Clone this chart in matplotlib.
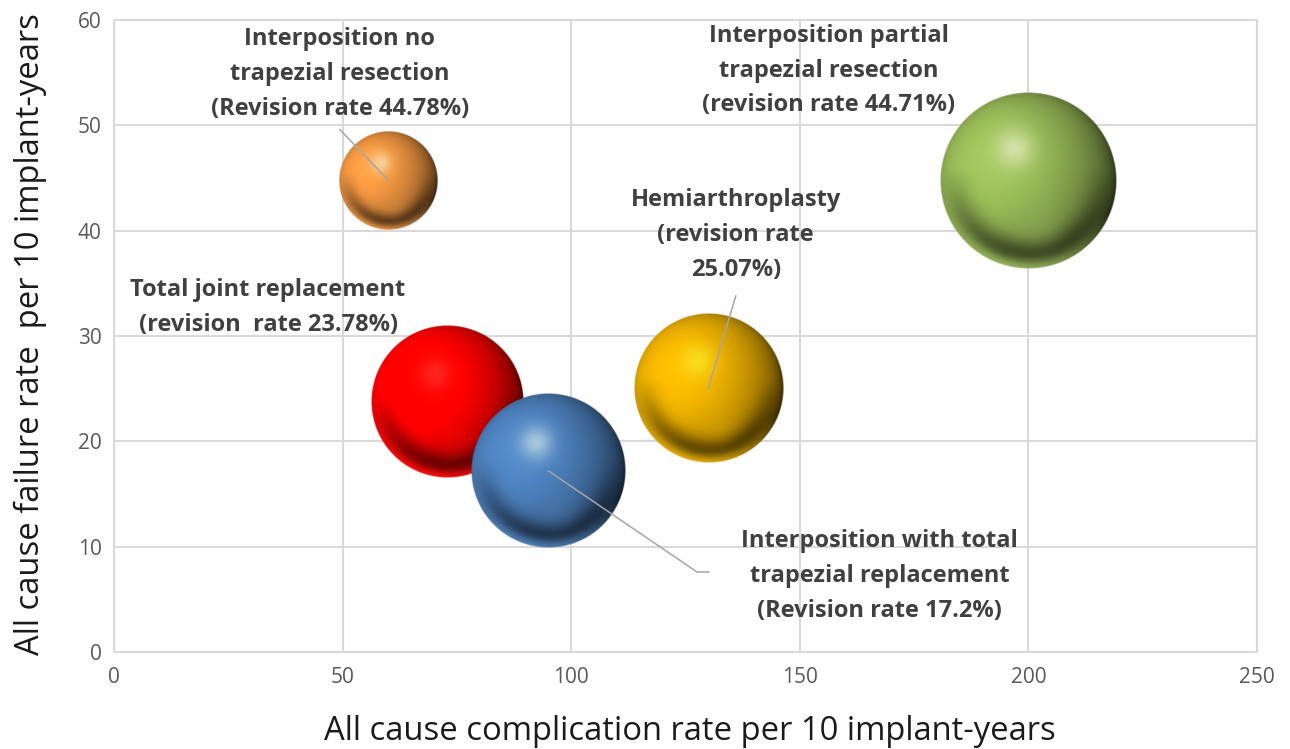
import numpy as np
import matplotlib
matplotlib.use('Agg')
import matplotlib.pyplot as plt

plt.rcParams['font.family'] = ['Open Sans', 'DejaVu Sans']

# values
complication_rate = [73, 95, 130, 60, 200]
failure_rate = [23.78, 17.2, 25.07, 44.78, 44.71]
bubble_size = [75.5, 77.5, 72, 31.5, 101]
bubble_color = ['#ff0000', '#4a7cb6', '#e6ac00', '#e8913f', '#94b455']
x_ticks = [0, 50, 100, 150, 200, 250]
y_ticks = [0, 10, 20, 30, 40, 50, 60]

labels = ['Total joint replacement\n(revision  rate 23.78%)',
          'Interposition with total\ntrapezial replacement\n(Revision rate 17.2%)',
          'Hemiarthroplasty\n(revision rate\n25.07%)',
          'Interposition no\ntrapezial resection\n(Revision rate 44.78%)',
          'Interposition partial\ntrapezial resection\n(revision rate 44.71%)']
label_x = [33.7, 167.5, 136, 49.4, 156.4]
label_y = [32.7, 7.2, 39.6, 54.9, 55.2]


# Shade one bubble as a lit sphere, returns an RGBA array
def sphere(color, n=400):
    base = np.array(matplotlib.colors.to_rgb(color))
    u, v = np.meshgrid(np.linspace(-1, 1, n), np.linspace(-1, 1, n))
    r = np.sqrt(u**2 + v**2)
    z = np.sqrt(np.clip(1 - r**2, 0, 1))

    # main light from the left, wrapped so the left edge stays coloured
    lx, ly, lz = -0.45, 0.25, 0.86
    lit = np.clip((u*lx + v*ly + z*lz + 0.6)/1.6, 0, 1)
    shade = 1.12*lit**0.8

    # dark band in the lower part and light rim under it
    band = np.exp(-((r - 0.82)/0.17)**2) * np.clip(-v + 0.15, 0, 1)
    shade = shade * (1 - 0.5*band)
    img = base[None, None, :] * shade[:, :, None]

    rim = np.exp(-((r - 1.0)/0.11)**2) * np.clip(-v - 0.3*u - 0.1, 0, 1)
    img = img + (base*0.95 + 0.05 - img) * rim[:, :, None]

    # bounce light low down
    glow = 0.3*np.exp(-((u - 0.12)**2 + (v + 0.55)**2)/0.06)
    img = img + (base*0.9 + 0.05 - img) * glow[:, :, None]

    # highlight
    spot = np.exp(-((u + 0.16)**2 + (v - 0.36)**2)/0.045)
    highlight = 0.85*base**0.4 + 0.15*np.array([1.0, 1.0, 0.8])
    img = img + (highlight - img) * (0.95*spot)[:, :, None]

    alpha = np.clip((1 - r)*n/4, 0, 1)
    return np.dstack([np.clip(img, 0, 1), alpha])


fig = plt.figure(figsize=(12.9, 7.49), dpi=100)
ax = fig.add_axes([114/1290, 1 - 652/749, (1257 - 114)/1290, (652 - 20)/749])
ax.set_xlim(0, 250)
ax.set_ylim(0, 60)
ax.set_xticks(x_ticks)
ax.set_yticks(y_ticks)
ax.grid(True, color='#d9d9d9', linewidth=1.5)
ax.set_axisbelow(True)
ax.tick_params(length=0, labelsize=15, labelcolor='#595959', pad=9)
ax.tick_params(axis='x', pad=11)
for s in ax.spines.values():
    s.set_color('#d9d9d9')
    s.set_linewidth(1.5)

# bubbles, radius from area in screen pixels so they stay round
px_x = ax.bbox.width / 250
px_y = ax.bbox.height / 60
for i in range(len(bubble_size)):
    rad = 88*np.sqrt(bubble_size[i]/100)
    dx = rad/px_x
    dy = rad/px_y
    x = complication_rate[i]
    y = failure_rate[i]
    ax.imshow(sphere(bubble_color[i]), origin='lower', aspect='auto',
              extent=[x - dx, x + dx, y - dy, y + dy], zorder=3 + i*0.1,
              interpolation='bilinear')
ax.set_xlim(0, 250)
ax.set_ylim(0, 60)

# leader lines
leader = dict(color='#a6a6a6', linewidth=1.1, zorder=5)
ax.plot([49.4, complication_rate[3]], [49.6, failure_rate[3]], **leader)
ax.plot([136, complication_rate[2]], [33.8, failure_rate[2]], **leader)
ax.plot([complication_rate[1], 127.5, 130.1], [failure_rate[1], 7.6, 7.6], **leader)

for i in range(len(labels)):
    ax.text(label_x[i], label_y[i], labels[i], ha='center', va='center',
            fontsize=17, fontweight='bold', color='#404040',
            linespacing=1.6, zorder=6)

fig.text(690/1290, 1 - 732/749, 'All cause complication rate per 10 implant-years',
         ha='center', va='center', fontsize=23.6, color='#1a1a1a')
fig.text(30/1290, 1 - 334/749, 'All cause failure rate  per 10 implant-years',
         ha='center', va='center', rotation=90, fontsize=23.6, color='#1a1a1a')

fig.savefig('out.png', dpi=100)
